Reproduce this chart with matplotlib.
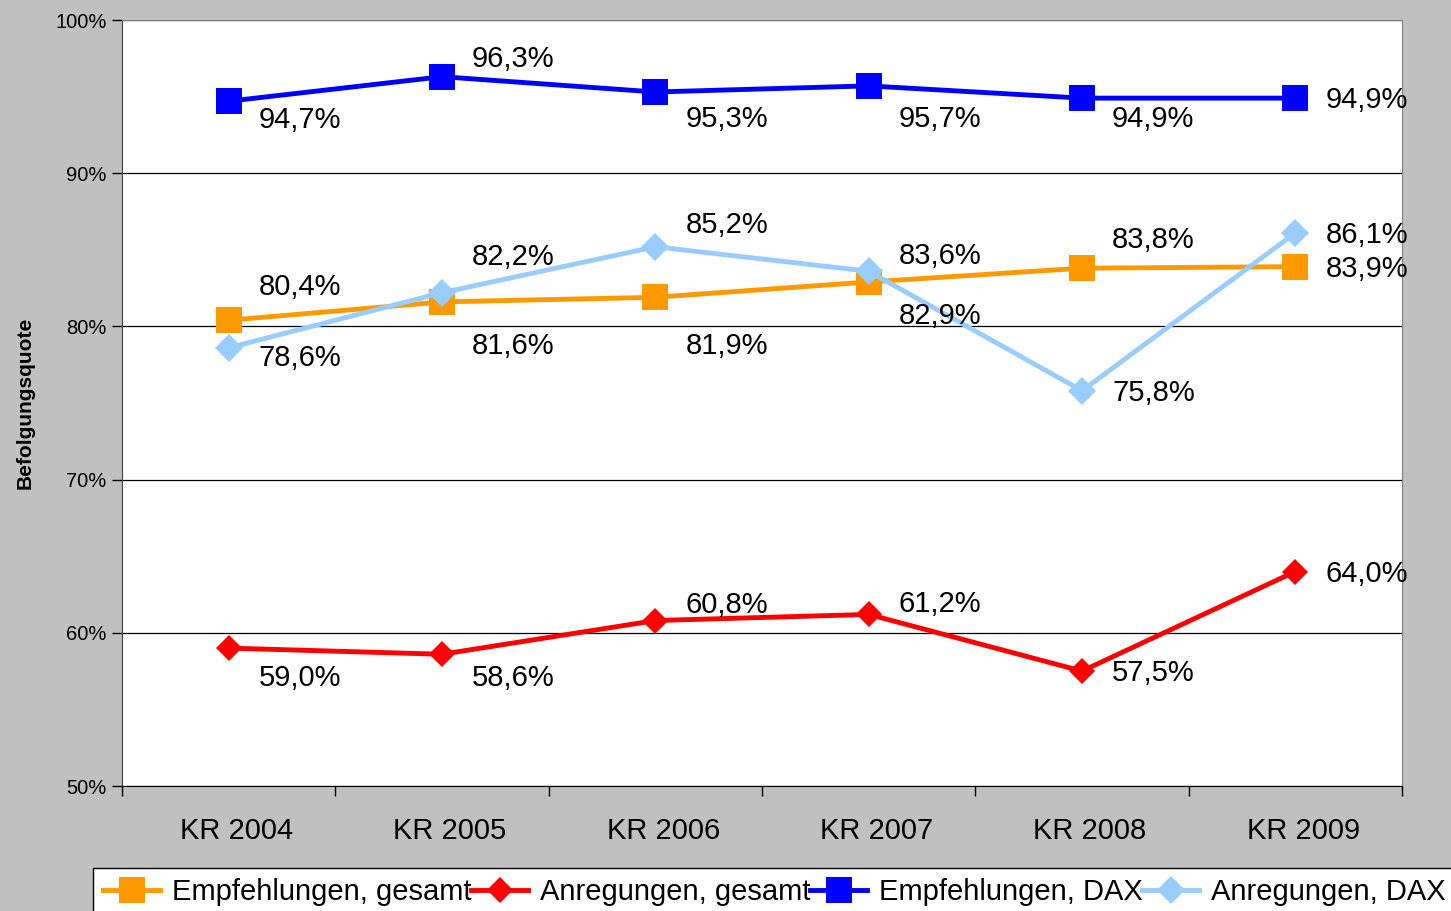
import matplotlib.pyplot as plt
import matplotlib.transforms as mtransforms

plt.rcParams['font.family'] = ['Liberation Sans', 'DejaVu Sans']

jahre = ['KR 2004', 'KR 2005', 'KR 2006', 'KR 2007', 'KR 2008', 'KR 2009']

empf_gesamt = [80.4, 81.6, 81.9, 82.9, 83.8, 83.9]
anr_gesamt = [59.0, 58.6, 60.8, 61.2, 57.5, 64.0]
empf_dax = [94.7, 96.3, 95.3, 95.7, 94.9, 94.9]
anr_dax = [78.6, 82.2, 85.2, 83.6, 75.8, 86.1]

namen = ['Empfehlungen, gesamt', 'Anregungen, gesamt', 'Empfehlungen, DAX', 'Anregungen, DAX']

# label vertical offsets in pixels (positive = below the point)
off_empf_gesamt = [-35, 42, 47, 32, -30, 0]
off_anr_gesamt = [28, 22, -18, -12, 0, 0]
off_empf_dax = [17, -20, 25, 31, 19, 0]
off_anr_dax = [8, -38, -24, -17, 0, 0]

fig = plt.figure(figsize=(14.51, 9.11), dpi=100)
fig.patch.set_facecolor('#C0C0C0')
ax = fig.add_axes([122/1451, 1 - 786/911, 1280/1451, 766/911])
ax.set_facecolor('white')

x = list(range(len(jahre)))
serien = [
    (empf_gesamt, off_empf_gesamt, '#FF9900', 's', 19),
    (anr_gesamt, off_anr_gesamt, '#FF0000', 'D', 13.5),
    (empf_dax, off_empf_dax, '#0000FF', 's', 19),
    (anr_dax, off_anr_dax, '#99CCFF', 'D', 14),
]

for (werte, offs, farbe, mk, ms), name in zip(serien, namen):
    ax.plot(x, werte, color=farbe, lw=3.5, marker=mk, ms=ms, label=name,
            markeredgewidth=0, zorder=3)
    for xi, v, o in zip(x, werte, offs):
        ax.annotate(f'{v:.1f}%'.replace('.', ','), (xi, v),
                    xytext=(30 * 0.72, -(o + 2) * 0.72), textcoords='offset points',
                    ha='left', va='center', fontsize=21, zorder=4)

ax.set_xlim(-0.5, 5.5)
ax.set_ylim(50, 100)
ax.set_yticks([50, 60, 70, 80, 90, 100])
ax.set_yticklabels(['50%', '60%', '70%', '80%', '90%', '100%'], fontsize=14.5)
ax.yaxis.grid(True, color='black', lw=0.9)
ax.set_axisbelow(True)

ax.set_xticks([i + 0.5 for i in range(-1, 6)])
ax.set_xticklabels([])
ax.set_xticks(x, minor=True)
ax.set_xticklabels(jahre, minor=True, fontsize=21)
ax.tick_params(axis='x', which='minor', length=0, pad=22)
ax.tick_params(axis='x', which='major', length=7, direction='out', width=1)
ax.tick_params(axis='y', length=7, direction='out', width=1, pad=4)
shift = mtransforms.ScaledTranslation(8/100, 0, fig.dpi_scale_trans)
for lbl in ax.get_xticklabels(minor=True):
    lbl.set_transform(lbl.get_transform() + shift)

ax.spines['left'].set_color('#404040')
ax.spines['bottom'].set_color('black')
ax.spines['top'].set_color('#808080')
ax.spines['right'].set_color('#808080')

ax.set_ylabel('Befolgungsquote', fontsize=15, fontweight='bold', labelpad=15)

leg = fig.legend(loc='upper left', bbox_to_anchor=(93/1451, 43/911), ncol=4,
                 fontsize=21, frameon=True, fancybox=False, edgecolor='black',
                 framealpha=1, borderpad=0.35, borderaxespad=0,
                 handlelength=1.95, handletextpad=0.4, columnspacing=0)
leg.get_frame().set_linewidth(1)

fig.savefig('out.png', dpi=100, facecolor=fig.get_facecolor())
